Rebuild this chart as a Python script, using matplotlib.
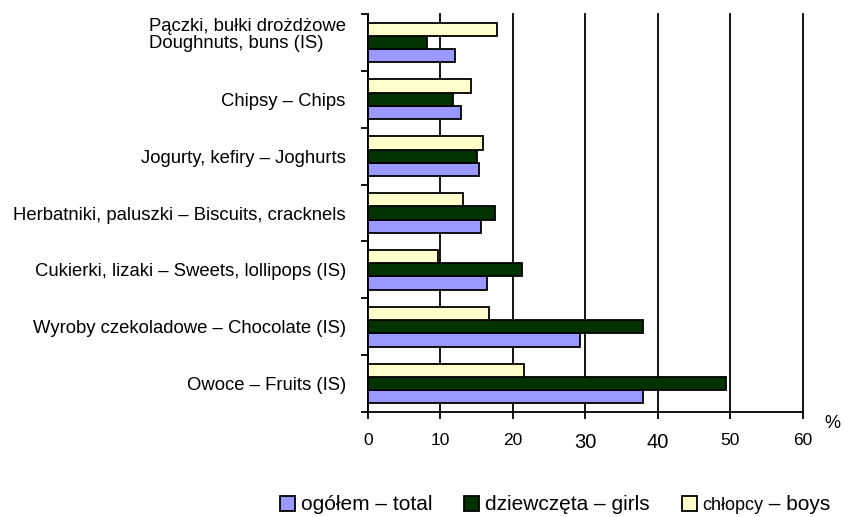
import matplotlib
matplotlib.use("Agg")
import matplotlib.pyplot as plt
import matplotlib.transforms as mtransforms
import numpy as np
from matplotlib.patches import Patch

plt.rcParams["font.family"] = ["Liberation Sans", "DejaVu Sans"]

# categories listed top to bottom
categories = [
    "Pączki, bułki drożdżowe\nDoughnuts, buns (IS)",
    "Chipsy – Chips",
    "Jogurty, kefiry – Joghurts",
    "Herbatniki, paluszki – Biscuits, cracknels",
    "Cukierki, lizaki – Sweets, lollipops (IS)",
    "Wyroby czekoladowe – Chocolate (IS)",
    "Owoce – Fruits (IS)",
]
total = [12.0, 12.8, 15.3, 15.6, 16.4, 29.2, 38.0]
girls = [8.1, 11.7, 15.1, 17.6, 21.2, 38.0, 49.4]
boys = [17.8, 14.2, 15.9, 13.1, 9.7, 16.7, 21.6]
x_ticks = [0, 10, 20, 30, 40, 50, 60]

series = [
    ("ogółem – total", total, "#9999ff"),
    ("dziewczęta – girls", girls, "#003300"),
    ("chłopcy", boys, "#ffffcc"),
]

fig = plt.figure(figsize=(8.44, 5.17), dpi=100)
ax = fig.add_axes([0.436, 0.203, 0.515, 0.770])

n = len(categories)
pos = np.arange(n)[::-1].astype(float)  # first category at the top
h = 0.233
offsets = [-h, 0.0, h]  # total lowest, boys on top

ax.set_axisbelow(True)
for (label, vals, color), off in zip(series, offsets):
    ax.barh(pos + off, vals, height=h, color=color, edgecolor="black",
            linewidth=1.3, label=label, zorder=3)

ax.set_xlim(0, 60)
ax.set_ylim(-0.5, n - 0.5)
ax.set_xticks(x_ticks)
ax.set_xticklabels([str(t) for t in x_ticks], fontsize=12.5)
for lbl in ax.get_xticklabels():
    if lbl.get_text() in ("30", "40"):
        lbl.set_fontsize(14.5)
ax.xaxis.grid(True, color="black", linewidth=1.3, zorder=0)
for gl in ax.get_xgridlines():
    gl.set_clip_on(False)
ax.tick_params(axis="x", direction="out", length=5, width=1.3, pad=10)

# category labels sit between the boundary ticks
ax.set_yticks(pos)
ax.set_yticklabels(categories, fontsize=13.3, linespacing=1.0)
ax.set_yticks(np.arange(n + 1) - 0.5, minor=True)
ax.tick_params(axis="y", which="major", length=0, pad=16)
ax.tick_params(axis="y", which="minor", direction="out", length=5, width=1.3)
for lbl in ax.get_yticklabels():
    lbl.set_multialignment("left")
# two-line label is lifted a little above its group centre
first = ax.get_yticklabels()[0]
first.set_transform(first.get_transform()
                    + mtransforms.ScaledTranslation(0, 9 / 100, fig.dpi_scale_trans))

for side in ("top", "right"):
    ax.spines[side].set_visible(False)
for side in ("left", "bottom"):
    ax.spines[side].set_linewidth(1.3)

fig.text(832 / 844, 1 - 424 / 517, "%", fontsize=13, ha="center", va="center")

handles = [Patch(facecolor=c, edgecolor="black", linewidth=1.3) for _, _, c in series]
leg = fig.legend(handles, [s[0] for s in series], loc="center left",
                 bbox_to_anchor=(270 / 844, 1 - 505 / 517), ncol=3,
                 frameon=False, borderpad=0, fontsize=15,
                 handlelength=0.72, handleheight=0.72,
                 handletextpad=0.25, columnspacing=1.55)
boys_txt = leg.get_texts()[2]
boys_txt.set_fontsize(13)

# the English part of the boys label is set at full size
fig.canvas.draw()
bb = boys_txt.get_window_extent().transformed(fig.transFigure.inverted())
fig.text(bb.x1, bb.y0, " – boys", fontsize=15, ha="left", va="bottom")

fig.savefig("out.png", dpi=100, facecolor="white")
